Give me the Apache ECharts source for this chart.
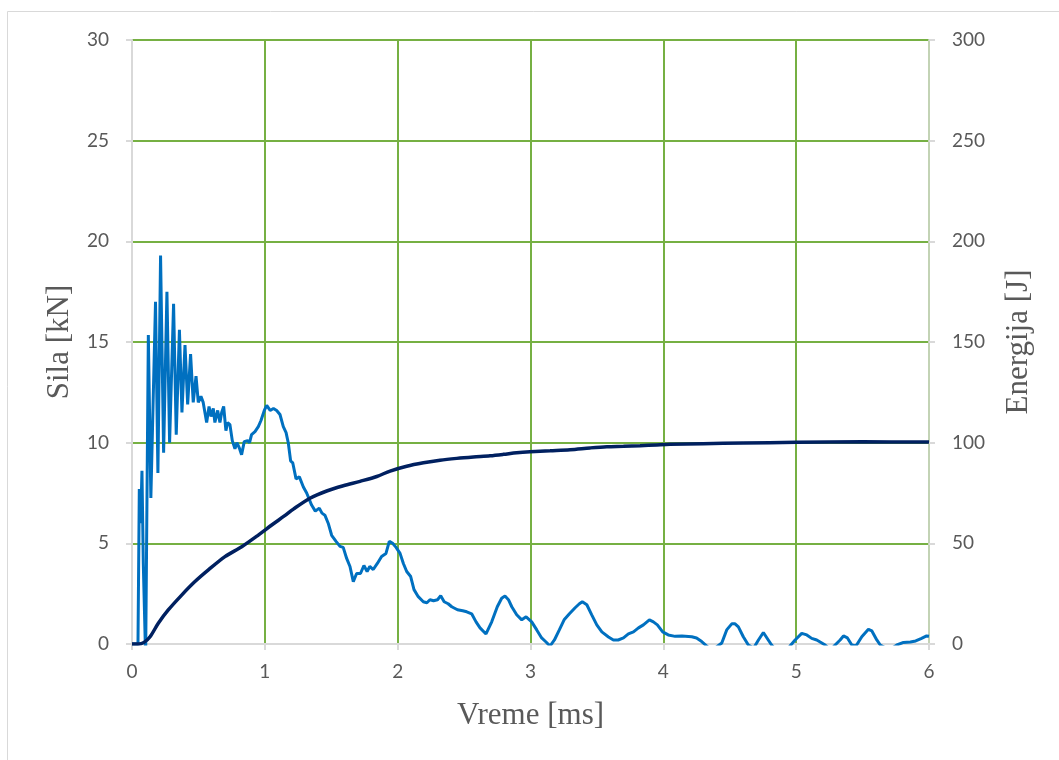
<!DOCTYPE html>
<html>
<head>
<meta charset="utf-8">
<script src="https://cdn.jsdelivr.net/npm/echarts@6/dist/echarts.min.js"></script>
<style>
html,body{margin:0;padding:0;background:#fff;}
#chart{width:1059px;height:760px;}
</style>
</head>
<body>
<div id="chart"></div>
<script>
// Force (kN) vs time (ms)
var forceTime = [0,0.045,0.055,0.065,0.075,0.085,0.1,0.103,0.123,0.142,0.177,0.195,0.215,0.238,0.263,0.283,0.313,0.333,0.357,0.376,0.399,0.419,0.441,0.461,0.482,0.499,0.519,0.536,0.549,0.562,0.58,0.595,0.612,0.624,0.645,0.662,0.675,0.69,0.707,0.72,0.737,0.755,0.775,0.79,0.81,0.825,0.845,0.87,0.885,0.9,0.926,0.951,0.971,0.996,1.014,1.04,1.065,1.089,1.114,1.139,1.16,1.177,1.194,1.21,1.235,1.26,1.29,1.315,1.352,1.38,1.41,1.43,1.452,1.477,1.503,1.536,1.566,1.59,1.616,1.641,1.666,1.691,1.72,1.746,1.77,1.79,1.816,1.847,1.879,1.912,1.937,1.962,1.988,2.018,2.043,2.068,2.098,2.123,2.155,2.193,2.22,2.243,2.27,2.3,2.324,2.35,2.38,2.407,2.45,2.49,2.52,2.557,2.59,2.62,2.665,2.708,2.75,2.783,2.808,2.834,2.859,2.896,2.934,2.967,3.009,3.047,3.084,3.117,3.147,3.18,3.217,3.253,3.293,3.336,3.368,3.39,3.424,3.461,3.499,3.537,3.587,3.624,3.66,3.7,3.737,3.775,3.813,3.85,3.895,3.925,3.955,3.995,4.037,4.089,4.14,4.214,4.25,4.289,4.327,4.36,4.4,4.44,4.477,4.515,4.54,4.565,4.602,4.64,4.68,4.716,4.753,4.79,4.815,4.86,4.93,4.96,4.992,5.042,5.08,5.117,5.155,5.193,5.218,5.26,5.293,5.331,5.356,5.386,5.419,5.45,5.494,5.544,5.57,5.607,5.633,5.7,5.758,5.808,5.86,5.9,5.944,5.982,6.0];
var forceValues = [0,0,7.7,6.0,8.6,4.0,0,-0.5,15.35,7.25,17.0,8.5,19.3,9.5,17.5,10.0,16.9,10.4,15.6,11.5,14.85,11.9,14.4,12.0,13.3,12.0,12.3,12.0,11.5,11.0,11.8,11.3,11.7,11.0,11.6,11.0,11.5,11.8,10.6,11.0,10.9,10.1,9.7,10.0,9.7,9.4,10.05,10.1,10.0,10.4,10.55,10.8,11.1,11.6,11.85,11.6,11.7,11.6,11.4,10.8,10.5,9.97,9.1,9.0,8.2,8.3,7.8,7.5,6.9,6.6,6.75,6.5,6.4,6.0,5.4,5.1,4.85,4.8,4.25,3.85,3.1,3.5,3.5,3.9,3.6,3.85,3.7,4.0,4.35,4.5,5.1,5.0,4.8,4.5,4.0,3.6,3.35,2.7,2.35,2.1,2.05,2.2,2.15,2.2,2.4,2.1,2.0,1.85,1.7,1.65,1.6,1.5,1.1,0.8,0.5,1.1,1.85,2.27,2.38,2.2,1.85,1.45,1.2,1.35,1.1,0.7,0.3,0.1,-0.1,0.2,0.7,1.2,1.5,1.8,2.0,2.1,1.95,1.45,0.95,0.6,0.35,0.2,0.2,0.3,0.5,0.6,0.8,0.95,1.2,1.1,0.95,0.6,0.45,0.38,0.4,0.36,0.3,0.12,-0.1,-0.3,-0.15,0.05,0.7,1.0,1.0,0.85,0.36,-0.05,-0.2,0.2,0.57,0.2,-0.05,-0.4,-0.3,-0.05,0.2,0.53,0.45,0.28,0.2,0.05,-0.05,-0.3,-0.05,0.2,0.4,0.3,-0.05,-0.1,0.36,0.73,0.65,0.2,-0.05,-0.3,-0.05,0.08,0.1,0.15,0.28,0.4,0.38];

// Energy (J) vs time (ms)
var energyTime = [0,0.05,0.09,0.136,0.198,0.273,0.374,0.474,0.575,0.7,0.826,0.951,1.052,1.147,1.215,1.34,1.466,1.591,1.717,1.843,1.943,2.068,2.194,2.319,2.445,2.57,2.696,2.796,2.896,2.997,3.148,3.298,3.449,3.575,3.7,3.825,3.95,4.05,4.3,4.6,5.0,5.5,6.0];
var energyValues = [0,0,0.8,3.6,10.3,16.9,24.3,31,36.8,43.4,48.3,54.1,59.1,63.6,67.0,72.4,76,78.6,80.8,83.2,85.9,88.3,90.0,91.3,92.2,92.9,93.5,94.2,95,95.5,96,96.5,97.4,98,98.2,98.5,98.9,99.2,99.5,99.8,100.2,100.4,100.3];

var xTicks = [0,1,2,3,4,5,6];
var leftTicks = [0,5,10,15,20,25,30];
var rightTicks = [0,50,100,150,200,250,300];

function pairs(t, v){ return t.map(function(x,i){ return [x, v[i]]; }); }

var tickFont = 'Lato, "Open Sans", sans-serif';
var titleFont = '"Liberation Serif", "Times New Roman", serif';
var green = '#76b043';
var gray = '#d9d9d9';

var chart = echarts.init(document.getElementById('chart'), null, {renderer:'canvas'});
chart.setOption({
  backgroundColor: '#ffffff',
  animation: false,
  graphic: [{
    type: 'rect', silent: true, z: -10,
    shape: {x: 7.5, y: 11.5, width: 1100, height: 800},
    style: {fill: 'none', stroke: gray, lineWidth: 1}
  }],
  grid: {left: 132, right: 130, top: 40, bottom: 116, containLabel: false},
  xAxis: {
    type: 'value', min: xTicks[0], max: xTicks[xTicks.length-1], interval: 1,
    name: 'Vreme [ms]', nameLocation: 'middle', nameGap: 56,
    nameTextStyle: {fontFamily: titleFont, fontSize: 31, color: '#595959'},
    axisLine: {show: true, onZero: false, lineStyle: {color: gray, width: 2}},
    axisTick: {show: true, inside: false, length: 6, lineStyle: {color: gray, width: 2}},
    axisLabel: {margin: 18, fontFamily: tickFont, fontSize: 19, color: '#595959'},
    splitLine: {show: true, lineStyle: {color: green, width: 2}}
  },
  yAxis: [{
    type: 'value', min: leftTicks[0], max: leftTicks[leftTicks.length-1], interval: 5,
    position: 'left',
    name: 'Sila [kN]', nameLocation: 'middle', nameGap: 57,
    nameTextStyle: {fontFamily: titleFont, fontSize: 31, color: '#595959'},
    axisLine: {show: true, lineStyle: {color: gray, width: 2}},
    axisTick: {show: true, inside: false, length: 6, lineStyle: {color: gray, width: 2}},
    axisLabel: {margin: 23, fontFamily: tickFont, fontSize: 19, color: '#595959'},
    splitLine: {show: true, lineStyle: {color: green, width: 2}}
  }, {
    type: 'value', min: rightTicks[0], max: rightTicks[rightTicks.length-1], interval: 50,
    position: 'right',
    name: 'Energija [J]', nameLocation: 'middle', nameGap: 74,
    nameTextStyle: {fontFamily: titleFont, fontSize: 31, color: '#595959'},
    axisLine: {show: true, lineStyle: {color: '#c3d3b5', width: 2}},
    axisTick: {show: true, inside: false, length: 6, lineStyle: {color: gray, width: 2}},
    axisLabel: {margin: 23, fontFamily: tickFont, fontSize: 19, color: '#595959'},
    splitLine: {show: false}
  }],
  series: [{
    name: 'Sila', type: 'line', yAxisIndex: 0,
    data: pairs(forceTime, forceValues),
    showSymbol: false, symbol: 'none', smooth: false, clip: true,
    lineStyle: {color: '#0070c0', width: 3}, z: 3
  }, {
    name: 'Energija', type: 'line', yAxisIndex: 1,
    data: pairs(energyTime, energyValues),
    showSymbol: false, symbol: 'none', smooth: 0.3, clip: true,
    lineStyle: {color: '#002060', width: 3.5}, z: 4
  }]
});
</script>
</body>
</html>
